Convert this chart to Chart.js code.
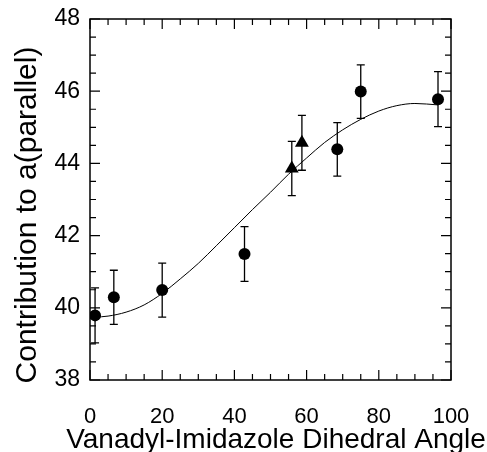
<!DOCTYPE html>
<html>
<head>
<meta charset="utf-8">
<script src="https://cdn.jsdelivr.net/npm/chart.js@4.4.0/dist/chart.umd.min.js"></script>
<style>
	html, body { margin: 0; padding: 0; background: #ffffff; }
	#wrap { position: relative; width: 487px; height: 452px; }
</style>
</head>
<body>
<div id="wrap"><canvas id="chart"></canvas></div>
<script>
// circles with error bars
var circleX = [1.4, 6.6, 20.0, 42.8, 68.5, 75.0, 96.4];
var circleY = [39.79, 40.29, 40.49, 41.49, 44.39, 45.99, 45.78];
var circleErr = [0.76, 0.75, 0.75, 0.76, 0.74, 0.74, 0.76];

// triangles with error bars
var triX = [55.9, 58.7];
var triY = [43.86, 44.57];
var triErr = [0.75, 0.76];

// fitted curve
var curveX = [1.4, 5, 10, 15, 20, 25, 30, 35, 40, 45, 50, 55, 60, 65, 70, 75, 80, 85, 90, 96.4];
var curveY = [39.74, 39.77, 39.88, 40.08, 40.40, 40.80, 41.23, 41.72, 42.22, 42.72, 43.20, 43.70, 44.15, 44.58, 44.93, 45.22, 45.45, 45.60, 45.66, 45.62];

var xTicks = [0, 20, 40, 60, 80, 100];
var yTicks = [38, 40, 42, 44, 46, 48];
var xTitle = "Vanadyl-Imidazole Dihedral Angle";
var yTitle = "Contribution to a(parallel)";

const fontFamily = "'Liberation Sans', Arial, Helvetica, sans-serif";

function points(xs, ys) {
	return xs.map((x, i) => ({"x": x, "y": ys[i]}));
}

// error bars under the markers
var errorBars = {
	"id": "errorBars",
	"beforeDatasetsDraw": function (chart) {
		const ctx = chart.ctx;
		const xs = chart.scales.x;
		const ys = chart.scales.y;
		const sets = [[circleX, circleY, circleErr], [triX, triY, triErr]];
		ctx.save();
		ctx.strokeStyle = "#000000";
		ctx.lineWidth = 1.3;
		for (const [px, py, pe] of sets) {
			for (let i = 0; i < px.length; i++) {
				const x = xs.getPixelForValue(px[i]);
				const top = ys.getPixelForValue(py[i] + pe[i]);
				const bottom = ys.getPixelForValue(py[i] - pe[i]);
				ctx.beginPath();
				ctx.moveTo(x, top);
				ctx.lineTo(x, bottom);
				ctx.moveTo(x - 4, top);
				ctx.lineTo(x + 4, top);
				ctx.moveTo(x - 4, bottom);
				ctx.lineTo(x + 4, bottom);
				ctx.stroke();
			}
		}
		ctx.restore();
	},
};

// box, inward ticks and axis titles
var frame = {
	"id": "frame",
	"afterDraw": function (chart) {
		const ctx = chart.ctx;
		const a = chart.chartArea;
		const xs = chart.scales.x;
		const ys = chart.scales.y;
		ctx.save();
		ctx.strokeStyle = "#000000";
		ctx.lineWidth = 1.5;
		ctx.strokeRect(a.left, a.top, a.right - a.left, a.bottom - a.top);

		ctx.lineWidth = 1.2;
		ctx.beginPath();
		for (let v = 0; v <= 100; v += 5) {
			const len = (v % 20 == 0) ? 10 : 6;
			const x = xs.getPixelForValue(v);
			ctx.moveTo(x, a.bottom);
			ctx.lineTo(x, a.bottom - len);
			ctx.moveTo(x, a.top);
			ctx.lineTo(x, a.top + len);
		}
		for (let v = 38; v <= 48.001; v += 0.5) {
			const len = (Math.abs(v / 2 - Math.round(v / 2)) < 0.01) ? 10 : 6;
			const y = ys.getPixelForValue(v);
			ctx.moveTo(a.left, y);
			ctx.lineTo(a.left + len, y);
			ctx.moveTo(a.right, y);
			ctx.lineTo(a.right - len, y);
		}
		ctx.stroke();

		ctx.fillStyle = "#000000";
		ctx.font = "28px " + fontFamily;
		ctx.textAlign = "center";
		ctx.textBaseline = "alphabetic";
		ctx.fillText(xTitle, 276, 448);

		ctx.translate(36, 215);
		ctx.rotate(-Math.PI / 2);
		ctx.font = "30px " + fontFamily;
		ctx.fillText(yTitle, 0, 0);
		ctx.restore();
	},
};

new Chart(document.getElementById("chart"), {
	"type": "scatter",
	"data": {
		"datasets": [
			{
				"label": "circles",
				"data": points(circleX, circleY),
				"pointStyle": "circle",
				"pointRadius": 6,
				"backgroundColor": "#000000",
				"borderColor": "#000000",
				"borderWidth": 0,
			},
			{
				"label": "triangles",
				"data": points(triX, triY),
				"pointStyle": "triangle",
				"pointRadius": 8,
				"backgroundColor": "#000000",
				"borderColor": "#000000",
				"borderWidth": 0,
			},
			{
				"label": "fit",
				"data": points(curveX, curveY),
				"showLine": true,
				"pointRadius": 0,
				"borderColor": "#000000",
				"borderWidth": 1,
				"cubicInterpolationMode": "monotone",
			},
		],
	},
	"options": {
		"responsive": true,
		"maintainAspectRatio": false,
		"animation": false,
		"layout": {"padding": {"top": 19, "right": 36, "left": 0, "bottom": 0}},
		"plugins": {
			"legend": {"display": false},
			"tooltip": {"enabled": false},
		},
		"scales": {
			"x": {
				"type": "linear",
				"min": 0,
				"max": 100,
				// fixed box, labels may overflow into the padding
				"afterFit": (scale) => { scale.height = 72; scale.paddingLeft = 0; scale.paddingRight = 0; },
				"afterBuildTicks": (scale) => { scale.ticks = xTicks.map((v) => ({"value": v})); },
				"grid": {"display": false, "drawTicks": false},
				"border": {"display": false},
				"ticks": {"color": "#000000", "padding": 24, "maxRotation": 0, "font": {"family": fontFamily, "size": 22}},
			},
			"y": {
				"type": "linear",
				"min": 38,
				"max": 48,
				"afterFit": (scale) => { scale.width = 90; scale.paddingTop = 0; scale.paddingBottom = 0; },
				"afterBuildTicks": (scale) => { scale.ticks = yTicks.map((v) => ({"value": v})); },
				"grid": {"display": false, "drawTicks": false},
				"border": {"display": false},
				"ticks": {"color": "#000000", "padding": 10, "font": {"family": fontFamily, "size": 23}},
			},
		},
	},
	"plugins": [errorBars, frame],
});
</script>
</body>
</html>
